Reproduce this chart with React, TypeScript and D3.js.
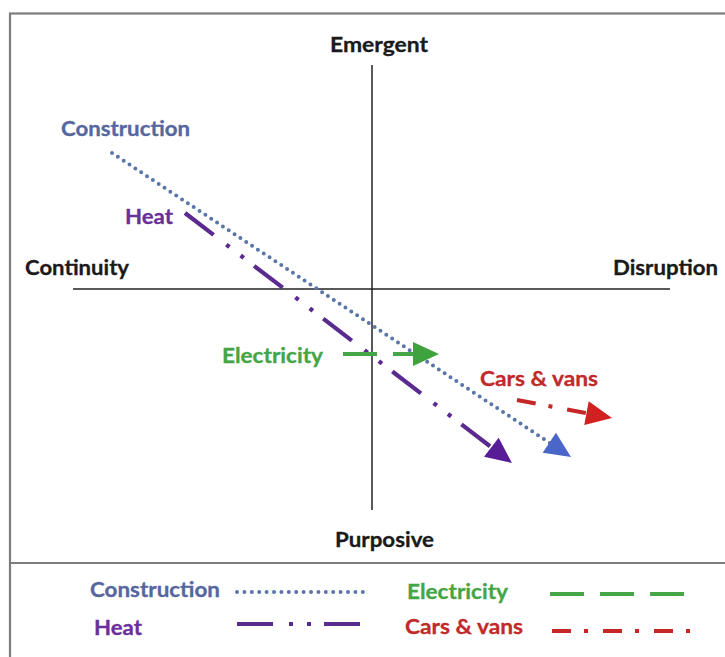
import React from 'react';
import * as d3 from 'd3';

// quadrant arrows (data units: x = continuity..disruption, y = purposive..emergent)
const seriesNames = ['Construction', 'Heat', 'Electricity', 'Cars & vans'];
const startX = [-260, -187, -29, 145];
const startY = [136, 76, -65, -111];
const endX = [199, 140, 67, 240];
const endY = [-168, -174, -65, -129];

const axisTop = 'Emergent';
const axisBottom = 'Purposive';
const axisLeft = 'Continuity';
const axisRight = 'Disruption';

// styling
const textColors = ['#56669f', '#6a2f99', '#45a545', '#c2292b'];
const lineColors = ['#5a76a8', '#5a2b8e', '#46a646', '#c52727'];
const headColors = ['#4a66c8', '#571c96', '#3ea33e', '#d21f1f'];
const dashes = ['0 7', '36 16 4 14 4 13', '34 16', '19 13 4 15'];
const widths = [4, 4.2, 4, 4];
const caps = ['round', 'butt', 'butt', 'butt'];
const labelDx = [-51, -12, -20, -37];
const labelDy = [-17, 11, 9, -14];
const labelAnchor = ['start', 'end', 'end', 'start'];
const labelLen = [129, 48, 101, 118];

const legendX = [90, 94, 407, 405];
const legendY = [597, 635, 599, 634];
const legendLineX = [237, 237, 550, 552];
const legendLineEnd = [365, 360, 685, 690];
const legendLineY = [592, 624, 594, 631];

const W = 725;
const H = 657;
const FONT = "Lato, 'Open Sans', sans-serif";

const App: React.FC = () => {
  const x = d3.scaleLinear().domain([-300, 300]).range([72, 672]);
  const y = d3.scaleLinear().domain([-225, 225]).range([514, 64]);
  const line = d3.line<[number, number]>().x(d => d[0]).y(d => d[1]);

  const headLen = 26;
  const headHalf = 12;

  const arrows = seriesNames.map((name, i) => {
    const x0 = x(startX[i]);
    const y0 = y(startY[i]);
    const x1 = x(endX[i]);
    const y1 = y(endY[i]);
    const len = Math.hypot(x1 - x0, y1 - y0);
    const ux = (x1 - x0) / len;
    const uy = (y1 - y0) / len;
    const bx = x1 - ux * headLen;
    const by = y1 - uy * headLen;
    const head = line([
      [x1, y1],
      [bx - uy * headHalf, by + ux * headHalf],
      [bx + uy * headHalf, by - ux * headHalf],
    ]) + 'Z';
    const shaft = line([
      [x0, y0],
      [x1 - ux * headLen * 0.7, y1 - uy * headLen * 0.7],
    ]);
    return { name, i, x0, y0, head, shaft };
  });

  return (
    <svg
      width={W}
      height={H}
      style={{ position: 'absolute', left: 0, top: 0, background: '#fff' }}
      fontFamily={FONT}
      fontWeight={700}
      fontSize={21}
    >
      {/* frame */}
      <rect x={10} y={13.5} width={800} height={800} fill="none" stroke="#7d7d7d" strokeWidth={2.2} />
      <line x1={10} x2={W} y1={563} y2={563} stroke="#7d7d7d" strokeWidth={2} />

      {/* axes */}
      <line x1={x(0)} x2={x(0)} y1={y(224)} y2={y(-221)} stroke="#222" strokeWidth={1.5} />
      <line x1={x(-299)} x2={x(298)} y1={y(0)} y2={y(0)} stroke="#222" strokeWidth={1.5} />

      <g fill="#1a1a1a" stroke="#1a1a1a" strokeWidth={0.3}>
        <text x={330} y={52} textLength={98} lengthAdjust="spacingAndGlyphs">{axisTop}</text>
        <text x={335} y={547} textLength={99} lengthAdjust="spacingAndGlyphs">{axisBottom}</text>
        <text x={25} y={275} textLength={104} lengthAdjust="spacingAndGlyphs">{axisLeft}</text>
        <text x={613} y={275} textLength={105} lengthAdjust="spacingAndGlyphs">{axisRight}</text>
      </g>

      {/* arrows */}
      {arrows.map(a => (
        <g key={a.name}>
          <path
            d={a.shaft || ''}
            fill="none"
            stroke={lineColors[a.i]}
            strokeWidth={widths[a.i]}
            strokeDasharray={dashes[a.i]}
            strokeLinecap={caps[a.i] as any}
          />
          <path d={a.head} fill={headColors[a.i]} />
          <text
            x={a.x0 + labelDx[a.i]}
            y={a.y0 + labelDy[a.i]}
            textAnchor={labelAnchor[a.i]}
            textLength={labelLen[a.i]}
            lengthAdjust="spacingAndGlyphs"
            fill={textColors[a.i]}
            stroke={textColors[a.i]}
            strokeWidth={0.3}
          >
            {a.name}
          </text>
        </g>
      ))}

      {/* legend */}
      {seriesNames.map((name, i) => (
        <g key={'lg' + name}>
          <text
            x={legendX[i]}
            y={legendY[i]}
            textLength={labelLen[i] + (i === 0 ? 1 : 0)}
            lengthAdjust="spacingAndGlyphs"
            fill={textColors[i]}
            stroke={textColors[i]}
            strokeWidth={0.3}
          >
            {name}
          </text>
          <line
            x1={legendLineX[i]}
            x2={legendLineEnd[i]}
            y1={legendLineY[i]}
            y2={legendLineY[i]}
            stroke={lineColors[i]}
            strokeWidth={widths[i]}
            strokeDasharray={i === 0 ? '0 7.4' : dashes[i]}
            strokeLinecap={caps[i] as any}
          />
        </g>
      ))}
    </svg>
  );
};

export default App;
